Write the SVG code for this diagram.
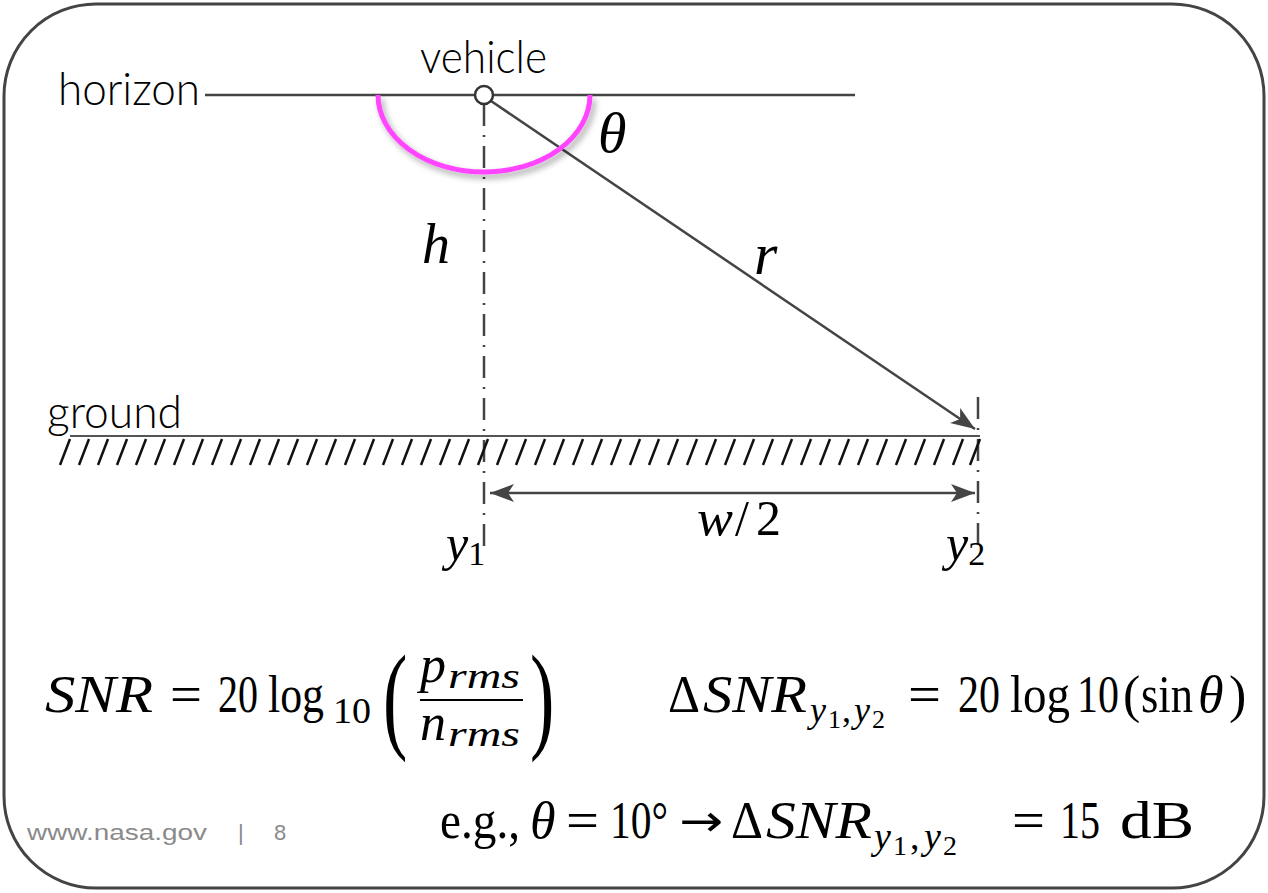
<svg xmlns="http://www.w3.org/2000/svg" width="1268" height="893" viewBox="0 0 1268 893">
<defs>
<style>
.lbl{font-family:Lato,"Open Sans","Liberation Sans",sans-serif;font-weight:300;font-size:45px;fill:#000}
.m{font-family:"Liberation Serif","DejaVu Serif",serif;fill:#000}
.mi{font-family:"Liberation Serif","DejaVu Serif",serif;font-style:italic;fill:#000}
.ln{stroke:#444;stroke-width:2.5;fill:none}
.dd{stroke:#444;stroke-width:2.5;fill:none;stroke-dasharray:22 9 2 9}
.foot{font-family:"Liberation Sans",Arial,sans-serif;font-size:22px;fill:#8a8a8a}
</style>
<marker id="ah" markerUnits="userSpaceOnUse" markerWidth="26" markerHeight="20" viewBox="0 0 26 20" refX="24" refY="10" orient="auto-start-reverse">
<path d="M0,1 L24,10 L0,19 L6,10 Z" fill="#444"/>
</marker>
<filter id="sh" x="-20%" y="-20%" width="140%" height="160%">
<feDropShadow dx="3" dy="4" stdDeviation="3" flood-color="#000" flood-opacity="0.35"/>
</filter>
</defs>
<rect x="4" y="4" width="1260" height="884" rx="92" ry="92" fill="#fff" stroke="#444" stroke-width="3"/>

<g id="connectors">
<line class="ln" x1="205" y1="95" x2="855" y2="95"/>
<line class="dd" x1="484" y1="104" x2="484" y2="546"/>
<line class="dd" x1="978" y1="397" x2="978" y2="550"/>
<line x1="70" y1="436" x2="980" y2="436" stroke="#555" stroke-width="2"/>
<path id="hatch" stroke="#111" stroke-width="2.5" fill="none" d="M70,439 l-10,26 M89,439 l-10,26 M108,439 l-10,26 M127,439 l-10,26 M146,439 l-10,26 M165,439 l-10,26 M184,439 l-10,26 M203,439 l-10,26 M222,439 l-10,26 M241,439 l-10,26 M260,439 l-10,26 M279,439 l-10,26 M298,439 l-10,26 M317,439 l-10,26 M336,439 l-10,26 M355,439 l-10,26 M374,439 l-10,26 M393,439 l-10,26 M412,439 l-10,26 M431,439 l-10,26 M450,439 l-10,26 M469,439 l-10,26 M488,439 l-10,26 M507,439 l-10,26 M526,439 l-10,26 M545,439 l-10,26 M564,439 l-10,26 M583,439 l-10,26 M602,439 l-10,26 M621,439 l-10,26 M640,439 l-10,26 M659,439 l-10,26 M678,439 l-10,26 M697,439 l-10,26 M716,439 l-10,26 M735,439 l-10,26 M754,439 l-10,26 M773,439 l-10,26 M792,439 l-10,26 M811,439 l-10,26 M830,439 l-10,26 M849,439 l-10,26 M868,439 l-10,26 M887,439 l-10,26 M906,439 l-10,26 M925,439 l-10,26 M944,439 l-10,26 M963,439 l-10,26 M980,439 l-10,26"/>
<line class="ln" x1="491" y1="101" x2="975" y2="429" marker-end="url(#ah)" stroke-width="2.2"/>
<line class="ln" x1="490" y1="493" x2="975" y2="493" marker-start="url(#ah)" marker-end="url(#ah)"/>
<path d="M378,95 A106,77 0 0 0 590,95" fill="none" stroke="#ff44ff" stroke-width="5" filter="url(#sh)"/>
</g>

<g id="vehicle">
<circle cx="484" cy="95" r="9" fill="#fff" stroke="#333" stroke-width="2.5"/>
<text class="lbl" x="420" y="73" textLength="127" lengthAdjust="spacingAndGlyphs">vehicle</text>
</g>
<g id="horizon"><text class="lbl" x="58" y="105" textLength="142" lengthAdjust="spacingAndGlyphs">horizon</text></g>
<g id="ground"><text class="lbl" x="47" y="428" textLength="135" lengthAdjust="spacingAndGlyphs">ground</text></g>

<g id="theta"><text class="mi" x="598" y="152" font-size="58">θ</text></g>
<g id="h"><text class="mi" x="422" y="263" font-size="56">h</text></g>
<g id="r"><text class="mi" x="754" y="274" font-size="60">r</text></g>
<g id="w2">
<text class="mi" x="697" y="535" font-size="50" textLength="36" lengthAdjust="spacingAndGlyphs">w</text>
<text class="m" x="735" y="535" font-size="50">/</text>
<text class="m" x="756" y="535" font-size="50">2</text>
</g>
<g id="y1"><text x="446" y="560" font-size="50"><tspan class="mi">y</tspan><tspan class="m" font-size="34" dy="5">1</tspan></text></g>
<g id="y2"><text x="946" y="560" font-size="50"><tspan class="mi">y</tspan><tspan class="m" font-size="34" dy="5">2</tspan></text></g>

<g id="snr">
<text class="mi" x="45" y="712" font-size="52" textLength="108" lengthAdjust="spacingAndGlyphs">SNR</text>
<text class="m" x="170" y="712" font-size="52" textLength="32" lengthAdjust="spacingAndGlyphs">=</text>
<text class="m" x="218" y="712" font-size="52" textLength="40" lengthAdjust="spacingAndGlyphs">20</text>
<text class="m" x="268" y="712" font-size="52" textLength="56" lengthAdjust="spacingAndGlyphs">log</text>
<text class="m" x="333" y="723" font-size="36" textLength="38" lengthAdjust="spacingAndGlyphs">10</text>
<text class="m" x="0" y="0" font-size="118" transform="translate(383,737) scale(0.62,1)">(</text>
<text class="mi" x="420" y="682" font-size="52">p</text>
<text class="mi" x="448" y="688" font-size="36" textLength="72" lengthAdjust="spacingAndGlyphs">rms</text>
<line x1="420" y1="700" x2="523" y2="700" stroke="#000" stroke-width="2"/>
<text class="mi" x="420" y="740" font-size="52">n</text>
<text class="mi" x="448" y="746" font-size="36" textLength="72" lengthAdjust="spacingAndGlyphs">rms</text>
<text class="m" x="0" y="0" font-size="118" transform="translate(530,737) scale(0.62,1)">)</text>
</g>

<g id="dsnr">
<text class="m" x="668" y="712" font-size="52" textLength="32" lengthAdjust="spacingAndGlyphs">Δ</text>
<text class="mi" x="703" y="712" font-size="52" textLength="104" lengthAdjust="spacingAndGlyphs">SNR</text>
<text class="mi" x="810" y="722" font-size="36">y</text>
<text class="m" x="828" y="728" font-size="26">1</text>
<text class="m" x="842" y="722" font-size="36">,</text>
<text class="mi" x="854" y="722" font-size="36">y</text>
<text class="m" x="872" y="728" font-size="26">2</text>
<text class="m" x="908" y="712" font-size="52" textLength="33" lengthAdjust="spacingAndGlyphs">=</text>
<text class="m" x="958" y="712" font-size="52" textLength="42" lengthAdjust="spacingAndGlyphs">20</text>
<text class="m" x="1010" y="712" font-size="52" textLength="60" lengthAdjust="spacingAndGlyphs">log</text>
<text class="m" x="1077" y="712" font-size="52" textLength="42" lengthAdjust="spacingAndGlyphs">10</text>
<text class="m" x="1123" y="712" font-size="52">(</text>
<text class="m" x="1141" y="712" font-size="52" textLength="52" lengthAdjust="spacingAndGlyphs">sin</text>
<text class="mi" x="1198" y="712" font-size="52">θ</text>
<text class="m" x="1229" y="712" font-size="52">)</text>
</g>

<g id="example">
<text class="m" x="440" y="838" font-size="52" textLength="80" lengthAdjust="spacingAndGlyphs">e.g.,</text>
<text class="mi" x="530" y="838" font-size="52">θ</text>
<text class="m" x="566" y="838" font-size="52" textLength="33" lengthAdjust="spacingAndGlyphs">=</text>
<text class="m" x="610" y="838" font-size="52" textLength="58" lengthAdjust="spacingAndGlyphs">10°</text>
<text x="679" y="836" font-family="DejaVu Sans,sans-serif" font-size="44" textLength="44" lengthAdjust="spacingAndGlyphs">→</text>
<text class="m" x="731" y="838" font-size="52" textLength="32" lengthAdjust="spacingAndGlyphs">Δ</text>
<text class="mi" x="766" y="838" font-size="52" textLength="106" lengthAdjust="spacingAndGlyphs">SNR</text>
<text class="mi" x="874" y="849" font-size="38">y</text>
<text class="m" x="893" y="855" font-size="28">1</text>
<text class="m" x="910" y="849" font-size="38">,</text>
<text class="mi" x="924" y="849" font-size="38">y</text>
<text class="m" x="943" y="855" font-size="28">2</text>
<text class="m" x="1012" y="838" font-size="52" textLength="33" lengthAdjust="spacingAndGlyphs">=</text>
<text class="m" x="1060" y="838" font-size="52" textLength="40" lengthAdjust="spacingAndGlyphs">15</text>
<text class="m" x="1120" y="838" font-size="52" textLength="74" lengthAdjust="spacingAndGlyphs">dB</text>
</g>

<g id="footer">
<text class="foot" x="27" y="840" textLength="180" lengthAdjust="spacingAndGlyphs">www.nasa.gov</text>
<text class="foot" x="238" y="840">|</text>
<text class="foot" x="274" y="840">8</text>
</g>
</svg>
